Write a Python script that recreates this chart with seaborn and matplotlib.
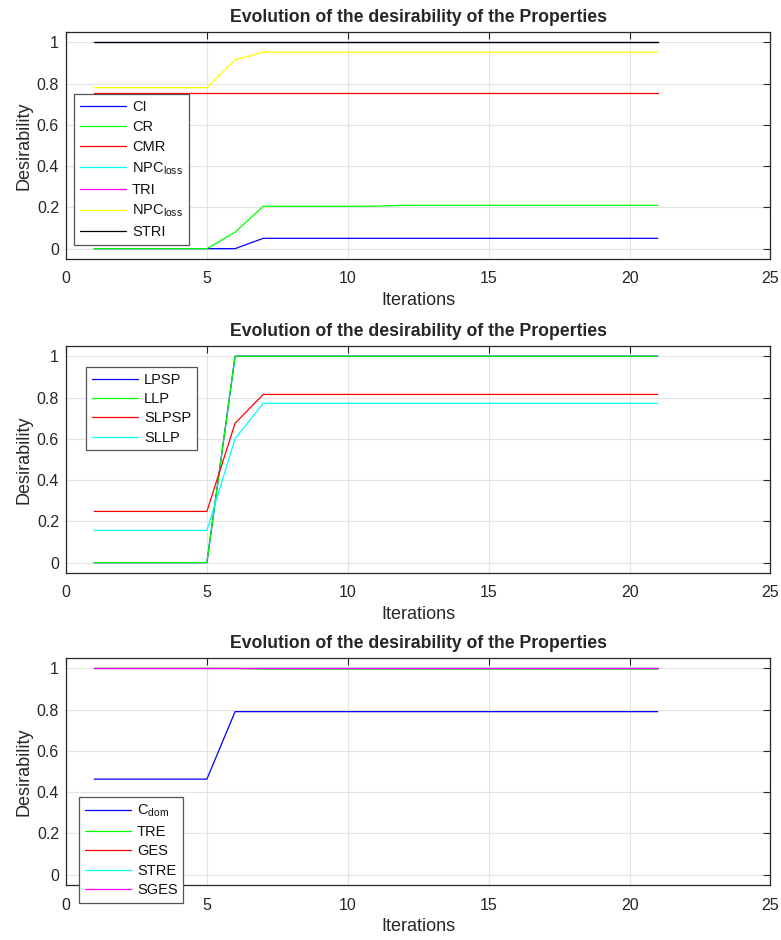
"""
Evolution of the desirability of the properties (three panels)
"""

import matplotlib.pyplot as plt
import seaborn as sns
from matplotlib.ticker import FixedLocator

# ---------------------------------------------------
# Data
# ---------------------------------------------------
iterations = list(range(1, 22))

# panel 1
ci = [0, 0, 0, 0, 0, 0, 0.05, 0.05, 0.05, 0.05, 0.05, 0.05, 0.05, 0.05, 0.05, 0.05, 0.05, 0.05, 0.05, 0.05, 0.05]
cr = [0, 0, 0, 0, 0, 0.08, 0.205, 0.205, 0.205, 0.205, 0.206, 0.21, 0.21, 0.21, 0.21, 0.21, 0.21, 0.21, 0.21, 0.21, 0.21]
cmr = [0.755, 0.755, 0.755, 0.755, 0.755, 0.755, 0.755, 0.755, 0.755, 0.755, 0.755, 0.755, 0.755, 0.755, 0.755, 0.755, 0.755, 0.755, 0.755, 0.755, 0.755]
npc_loss = [1, 1, 1, 1, 1, 1, 1, 1, 1, 1, 1, 1, 1, 1, 1, 1, 1, 1, 1, 1, 1]
tri = [1, 1, 1, 1, 1, 1, 1, 1, 1, 1, 1, 1, 1, 1, 1, 1, 1, 1, 1, 1, 1]
npc_loss_s = [0.78, 0.78, 0.78, 0.78, 0.78, 0.915, 0.952, 0.952, 0.952, 0.952, 0.952, 0.952, 0.952, 0.952, 0.952, 0.952, 0.952, 0.952, 0.952, 0.952, 0.952]
stri = [1, 1, 1, 1, 1, 1, 1, 1, 1, 1, 1, 1, 1, 1, 1, 1, 1, 1, 1, 1, 1]

# panel 2
lpsp = [0, 0, 0, 0, 0, 1, 1, 1, 1, 1, 1, 1, 1, 1, 1, 1, 1, 1, 1, 1, 1]
llp = [0, 0, 0, 0, 0, 1, 1, 1, 1, 1, 1, 1, 1, 1, 1, 1, 1, 1, 1, 1, 1]
slpsp = [0.248, 0.248, 0.248, 0.248, 0.248, 0.675, 0.815, 0.815, 0.815, 0.815, 0.815, 0.815, 0.815, 0.815, 0.815, 0.815, 0.815, 0.815, 0.815, 0.815, 0.815]
sllp = [0.156, 0.156, 0.156, 0.156, 0.156, 0.6, 0.772, 0.772, 0.772, 0.772, 0.772, 0.772, 0.772, 0.772, 0.772, 0.772, 0.772, 0.772, 0.772, 0.772, 0.772]

# panel 3
c_dom = [0.463, 0.463, 0.463, 0.463, 0.463, 0.79, 0.79, 0.79, 0.79, 0.79, 0.79, 0.79, 0.79, 0.79, 0.79, 0.79, 0.79, 0.79, 0.79, 0.79, 0.79]
tre = [1, 1, 1, 1, 1, 1, 0.996, 0.996, 0.996, 0.996, 0.996, 0.996, 0.996, 0.996, 0.996, 0.996, 0.996, 0.996, 0.996, 0.996, 0.996]
ges = [1, 1, 1, 1, 1, 1, 1, 1, 1, 1, 1, 1, 1, 1, 1, 1, 1, 1, 1, 1, 1]
stre = [1, 1, 1, 1, 1, 1, 1, 1, 1, 1, 1, 1, 1, 1, 1, 1, 1, 1, 1, 1, 1]
sges = [1, 1, 1, 1, 1, 1, 1, 1, 1, 1, 1, 1, 1, 1, 1, 1, 1, 1, 1, 1, 1]

title = "Evolution of the desirability of the Properties"
x_ticks = [0, 5, 10, 15, 20, 25]
y_ticks = [0, 0.2, 0.4, 0.6, 0.8, 1]
y_tick_labels = ["0", "0.2", "0.4", "0.6", "0.8", "1"]

panels = [
    [
        (ci, "CI", "#0000ff"),
        (cr, "CR", "#00ff00"),
        (cmr, "CMR", "#ff0000"),
        (npc_loss, "NPC$_{loss}$", "#00ffff"),
        (tri, "TRI", "#ff00ff"),
        (npc_loss_s, "NPC$_{loss}$", "#ffff00"),
        (stri, "STRI", "#000000"),
    ],
    [
        (lpsp, "LPSP", "#0000ff"),
        (llp, "LLP", "#00ff00"),
        (slpsp, "SLPSP", "#ff0000"),
        (sllp, "SLLP", "#00ffff"),
    ],
    [
        (c_dom, "C$_{dom}$", "#0000ff"),
        (tre, "TRE", "#00ff00"),
        (ges, "GES", "#ff0000"),
        (stre, "STRE", "#00ffff"),
        (sges, "SGES", "#ff00ff"),
    ],
]

# legend anchors (axes fraction, upper-left corner) and row spacing
legend_anchor = [(0.011, 0.727), (0.028, 0.907), (0.018, 0.388)]
legend_spacing = [0.42, 0.36, 0.38]

# axes rectangles in figure fraction: left, bottom, width, height
axes_rects = [
    (0.0845, 0.7245, 0.902, 0.2415),
    (0.0845, 0.3905, 0.902, 0.2415),
    (0.0845, 0.0585, 0.902, 0.2415),
]

# ---------------------------------------------------
# Style
# ---------------------------------------------------
sns.set_style("whitegrid")
plt.rcParams["font.family"] = ["Liberation Sans", "DejaVu Sans"]
plt.rcParams["mathtext.default"] = "regular"

fig = plt.figure(figsize=(7.81, 9.4), dpi=100)

for i, series in enumerate(panels):
    ax = fig.add_axes(axes_rects[i])

    for values, label, color in series:
        sns.lineplot(
            x=iterations,
            y=values,
            color=color,
            label=label,
            linewidth=0.9,
            ax=ax
        )

    ax.set_xlim(0, 25)
    ax.set_ylim(-0.05, 1.05)
    ax.xaxis.set_major_locator(FixedLocator(x_ticks))
    ax.set_yticks(y_ticks)
    ax.set_yticklabels(y_tick_labels)

    ax.set_title(title, fontsize=12.7, fontweight="bold", pad=7)
    ax.set_xlabel("Iterations", fontsize=13, color="#262626", labelpad=4)
    ax.set_ylabel("Desirability", fontsize=13, color="#262626", labelpad=3)

    ax.tick_params(
        axis="both",
        direction="in",
        top=True,
        right=True,
        length=5,
        width=0.8,
        colors="#262626",
        labelsize=11.5
    )
    ax.tick_params(axis="x", pad=9)
    ax.tick_params(axis="y", pad=5)

    ax.grid(True, color="#e3e3e3", linewidth=0.8)
    for spine in ax.spines.values():
        spine.set_color("#262626")
        spine.set_linewidth(0.9)

    leg = ax.legend(
        loc="upper left",
        bbox_to_anchor=legend_anchor[i],
        borderaxespad=0,
        fontsize=10.5,
        handlelength=3.2,
        handletextpad=0.4,
        labelspacing=legend_spacing[i],
        borderpad=0.4,
        fancybox=False,
        framealpha=1,
        edgecolor="#555555"
    )
    leg.get_frame().set_linewidth(0.9)
    leg.set_zorder(10)
    for text in leg.get_texts():
        text.set_color("#111111")

plt.savefig("out.png", dpi=100)
plt.close()
